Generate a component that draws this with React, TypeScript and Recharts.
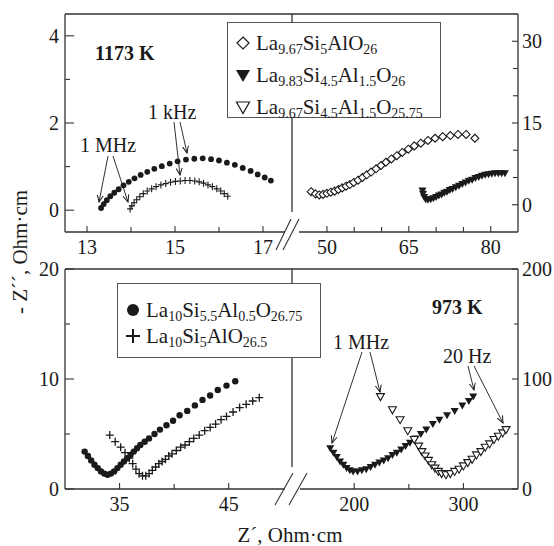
import React from "react";
import { ScatterChart, Scatter, XAxis, YAxis } from "recharts";

// 1173 K, low Z' side (left axes)
const hotAl05: number[][] = [
  [13.32, 0.05], [13.38, 0.14], [13.45, 0.23], [13.53, 0.32], [13.62, 0.4], [13.72, 0.48],
  [13.83, 0.57], [13.95, 0.65], [14.08, 0.73], [14.22, 0.81], [14.37, 0.88], [14.53, 0.95],
  [14.7, 1.01], [14.88, 1.07], [15.06, 1.12], [15.25, 1.16], [15.44, 1.18], [15.63, 1.19],
  [15.82, 1.17], [16.0, 1.14], [16.18, 1.09], [16.36, 1.04], [16.54, 0.97], [16.72, 0.9],
  [16.88, 0.82], [17.04, 0.75], [17.18, 0.68],
];
const hotAl1: number[][] = [
  [13.98, 0.03], [14.02, 0.1], [14.07, 0.17], [14.13, 0.24], [14.2, 0.31], [14.28, 0.38],
  [14.37, 0.44], [14.47, 0.49], [14.57, 0.54], [14.68, 0.58], [14.79, 0.61], [14.9, 0.64],
  [15.01, 0.66], [15.12, 0.67], [15.23, 0.68], [15.34, 0.68], [15.45, 0.67], [15.55, 0.65],
  [15.65, 0.62], [15.75, 0.58], [15.85, 0.54], [15.95, 0.49], [16.04, 0.44], [16.12, 0.38],
  [16.2, 0.32],
];
// 1173 K, high Z' side (right axes)
const hotLa967Al1: number[][] = [
  [47.1, 2.4], [47.9, 2.0], [48.6, 1.8], [49.3, 1.9], [50.0, 2.1], [50.7, 2.3], [51.4, 2.5],
  [52.1, 2.8], [52.8, 3.1], [53.5, 3.4], [54.2, 3.7], [54.9, 4.1], [55.7, 4.5], [56.5, 5.0],
  [57.3, 5.5], [58.1, 6.0], [59.0, 6.6], [59.9, 7.2], [60.8, 7.8], [61.8, 8.4], [62.8, 9.0],
  [63.8, 9.6], [64.9, 10.2], [66.0, 10.8], [67.2, 11.3], [68.5, 11.8], [69.8, 12.2],
  [71.2, 12.5], [72.6, 12.7], [74.0, 12.9], [75.5, 12.9], [77.1, 12.2],
];
const hotLa983: number[][] = [
  [67.5, 2.6], [67.6, 2.0], [67.8, 1.4], [68.1, 1.0], [68.5, 0.9], [69.0, 1.0], [69.5, 1.2],
  [70.0, 1.4], [70.5, 1.7], [71.0, 1.9], [71.5, 2.2], [72.0, 2.4], [72.5, 2.7], [73.0, 2.9],
  [73.6, 3.2], [74.2, 3.5], [74.8, 3.8], [75.4, 4.1], [76.0, 4.4], [76.6, 4.6], [77.2, 4.9],
  [77.8, 5.1], [78.4, 5.3], [79.0, 5.5], [79.6, 5.6], [80.2, 5.7], [80.8, 5.8], [81.4, 5.8],
  [82.0, 5.8], [82.6, 5.8],
];

// 973 K, low Z' side
const coldAl05: number[][] = [
  [31.8, 3.4], [32.1, 3.0], [32.4, 2.6], [32.7, 2.2], [33.0, 1.9], [33.3, 1.6], [33.6, 1.4],
  [33.9, 1.3], [34.2, 1.4], [34.5, 1.6], [34.8, 1.9], [35.1, 2.2], [35.4, 2.5], [35.7, 2.8],
  [36.0, 3.1], [36.3, 3.4], [36.6, 3.7], [36.9, 4.0], [37.3, 4.3], [37.7, 4.6], [38.2, 5.0],
  [38.7, 5.4], [39.3, 5.8], [39.9, 6.2], [40.5, 6.7], [41.2, 7.1], [41.9, 7.6], [42.6, 8.1],
  [43.3, 8.5], [44.0, 9.0], [44.8, 9.4], [45.6, 9.8],
];
const coldAl1: number[][] = [
  [34.1, 4.9], [34.6, 4.3], [35.1, 3.8], [35.5, 3.3], [35.9, 2.8], [36.2, 2.3], [36.5, 1.8],
  [36.8, 1.4], [37.1, 1.2], [37.4, 1.2], [37.7, 1.4], [38.0, 1.7], [38.3, 2.0], [38.6, 2.3],
  [38.9, 2.5], [39.2, 2.7], [39.5, 3.0], [39.8, 3.2], [40.2, 3.5], [40.6, 3.8], [41.0, 4.0],
  [41.4, 4.3], [41.8, 4.6], [42.3, 4.9], [42.8, 5.3], [43.3, 5.6], [43.8, 5.9], [44.3, 6.3],
  [44.8, 6.6], [45.4, 7.0], [46.0, 7.4], [46.6, 7.7], [47.2, 8.0], [47.8, 8.3],
];
// 973 K, high Z' side
const coldLa983: number[][] = [
  [178, 37], [181, 33], [184, 29], [187, 25], [190, 22], [193, 19], [196, 17], [199, 16],
  [203, 16], [207, 17], [211, 18], [215, 20], [219, 22], [223, 24], [227, 26], [231, 28],
  [235, 31], [239, 33], [243, 36], [247, 39], [251, 42], [256, 46], [261, 50], [266, 54],
  [272, 59], [278, 63], [285, 67], [292, 71], [299, 76], [305, 80], [309, 84],
];
const coldLa967: number[][] = [
  [224, 84], [235, 72], [242, 63], [249, 53], [255, 45], [259, 39], [262, 34], [265, 30],
  [268, 26], [271, 22], [274, 19], [277, 16], [280, 14], [284, 13], [288, 14], [292, 16],
  [296, 18], [300, 21], [304, 24], [308, 27], [312, 31], [316, 34], [320, 38], [324, 41],
  [328, 45], [332, 48], [336, 51], [339, 54],
];

const tlXTicks = [13, 14, 15, 16, 17];
const tlXLabels = [13, 15, 17];
const tlYTicks = [0, 1, 2, 3, 4];
const tlYLabels = [0, 2, 4];
const trXTicks = [50, 55, 60, 65, 70, 75, 80];
const trXLabels = [50, 65, 80];
const trYTicks = [0, 5, 10, 15, 20, 25, 30];
const trYLabels = [0, 15, 30];
const blXTicks = [35, 40, 45];
const blXLabels = [35, 45];
const blYTicks = [0, 5, 10, 15, 20];
const blYLabels = [0, 10, 20];
const brXTicks = [200, 250, 300];
const brXLabels = [200, 300];
const brYTicks = [0, 50, 100, 150, 200];
const brYLabels = [0, 100, 200];

const W = 554;
const H = 546;
const FONT = "'Liberation Serif', 'Times New Roman', serif";
const INK = "#1a1a1a";
const LINE = "#333";

const toPts = (arr: number[][]) => arr.map(([x, y]) => ({ x, y }));

// ticks point inward; x/y arrive already shifted by tickMargin (tickSize is 0)
function AxisTick(props: any) {
  const { x, y, payload, side, labels, major, minor, gap } = props;
  const v = payload.value;
  const isMajor = labels.includes(v);
  const len = isMajor ? major : minor;
  if (side === "left") {
    const ax = x + gap;
    return (
      <g>
        <line x1={ax} y1={y} x2={ax + len} y2={y} stroke={LINE} strokeWidth={1.1} />
        {isMajor && (
          <text x={x} y={y} dy="0.35em" textAnchor="end" fontSize={20} fontFamily={FONT} fill={INK}>{v}</text>
        )}
      </g>
    );
  }
  if (side === "right") {
    const ax = x - gap;
    return (
      <g>
        <line x1={ax} y1={y} x2={ax - len} y2={y} stroke={LINE} strokeWidth={1.1} />
        {isMajor && (
          <text x={x} y={y} dy="0.35em" textAnchor="start" fontSize={20} fontFamily={FONT} fill={INK}>{v}</text>
        )}
      </g>
    );
  }
  const ay = y - gap;
  return (
    <g>
      <line x1={x} y1={ay} x2={x} y2={ay - len} stroke={LINE} strokeWidth={1.1} />
      {isMajor && (
        <text x={x} y={ay + 22} textAnchor="middle" fontSize={20} fontFamily={FONT} fill={INK}>{v}</text>
      )}
    </g>
  );
}

const Dot = (p: any) => <circle cx={p.cx} cy={p.cy} r={2.9} fill={INK} />;
const BigDot = (p: any) => <circle cx={p.cx} cy={p.cy} r={3.2} fill={INK} />;
const SmallCross = (p: any) => (
  <path d={`M${p.cx - 3},${p.cy}H${p.cx + 3}M${p.cx},${p.cy - 3.5}V${p.cy + 3.5}`} stroke={INK} strokeWidth={1.1} />
);
const Cross = (p: any) => (
  <path d={`M${p.cx - 4},${p.cy}H${p.cx + 4}M${p.cx},${p.cy - 4}V${p.cy + 4}`} stroke={INK} strokeWidth={1.3} />
);
const Diamond = (p: any) => (
  <path d={`M${p.cx},${p.cy - 4}L${p.cx + 4},${p.cy}L${p.cx},${p.cy + 4}L${p.cx - 4},${p.cy}Z`} fill="#fff" stroke={INK} strokeWidth={1.1} />
);
const TriDown = (p: any) => (
  <path d={`M${p.cx - 4},${p.cy - 3}H${p.cx + 4}L${p.cx},${p.cy + 4}Z`} fill={INK} />
);
const TriOpen = (p: any) => (
  <path d={`M${p.cx - 4},${p.cy - 3}H${p.cx + 4}L${p.cx},${p.cy + 4}Z`} fill="#fff" stroke={INK} strokeWidth={1.1} />
);

interface PanelProps {
  box: { x0: number; x1: number; y0: number; y1: number };
  xDomain: number[];
  yDomain: number[];
  xTicks: number[];
  xLabels: number[];
  yTicks: number[];
  yLabels: number[];
  ySide: "left" | "right";
  yMajor: number;
  yMinor: number;
  series: { data: number[][]; shape: any; name: string }[];
}

const AX = 2; // nominal axis thickness reserved by recharts

function Panel({ box, xDomain, yDomain, xTicks, xLabels, yTicks, yLabels, ySide, yMajor, yMinor, series }: PanelProps) {
  const yGap = ySide === "left" ? 6 : 4;
  const margin = {
    top: box.y0,
    bottom: H - box.y1 - AX,
    left: ySide === "left" ? box.x0 - AX : box.x0,
    right: ySide === "right" ? W - box.x1 - AX : W - box.x1,
  };
  return (
    <div style={{ position: "absolute", left: 0, top: 0, width: W, height: H }}>
      <ScatterChart width={W} height={H} margin={margin}>
        <XAxis
          type="number"
          dataKey="x"
          domain={xDomain}
          ticks={xTicks}
          interval={0}
          allowDataOverflow
          height={AX}
          axisLine={false}
          tickLine={false}
          tickSize={0}
          tickMargin={5}
          tick={<AxisTick side="bottom" labels={xLabels} major={6} minor={5} gap={5} />}
        />
        <YAxis
          type="number"
          dataKey="y"
          orientation={ySide}
          domain={yDomain}
          ticks={yTicks}
          interval={0}
          allowDataOverflow
          width={AX}
          axisLine={false}
          tickLine={false}
          tickSize={0}
          tickMargin={yGap}
          tick={<AxisTick side={ySide} labels={yLabels} major={yMajor} minor={yMinor} gap={yGap} />}
        />
        {series.map((s) => (
          <Scatter key={s.name} name={s.name} data={toPts(s.data)} shape={s.shape} isAnimationActive={false} />
        ))}
      </ScatterChart>
    </div>
  );
}

const sub = (t: string) => (
  <span style={{ fontSize: 14, lineHeight: "14px", position: "relative", top: 4 }}>{t}</span>
);

function LegendRow({ top, marker, children }: { top: number; marker: React.ReactNode; children: React.ReactNode }) {
  return (
    <div style={{ position: "absolute", left: 7, top: top - 11, height: 22, display: "flex", alignItems: "center", whiteSpace: "nowrap" }}>
      <svg width={16} height={16} style={{ marginRight: 5 }}>{marker}</svg>
      <span style={{ fontSize: 21, lineHeight: "20px" }}>{children}</span>
    </div>
  );
}

export default function App() {
  return (
    <div style={{ position: "absolute", left: 0, top: 0, width: W, height: H, background: "#fff", fontFamily: FONT, color: INK }}>
      <Panel
        box={{ x0: 65, x1: 292, y0: 14, y1: 232 }}
        xDomain={[12.5, 17.66]}
        yDomain={[-0.5, 4.5]}
        xTicks={tlXTicks}
        xLabels={tlXLabels}
        yTicks={tlYTicks}
        yLabels={tlYLabels}
        ySide="left"
        yMajor={9}
        yMinor={5}
        series={[
          { name: "La10Si5.5Al0.5O26.75", data: hotAl05, shape: Dot },
          { name: "La10Si5AlO26.5", data: hotAl1, shape: SmallCross },
        ]}
      />
      <Panel
        box={{ x0: 292, x1: 518, y0: 14, y1: 232 }}
        xDomain={[43.6, 85]}
        yDomain={[-5, 35]}
        xTicks={trXTicks}
        xLabels={trXLabels}
        yTicks={trYTicks}
        yLabels={trYLabels}
        ySide="right"
        yMajor={6}
        yMinor={5}
        series={[
          { name: "La9.67Si5AlO26", data: hotLa967Al1, shape: Diamond },
          { name: "La9.83Si4.5Al1.5O26", data: hotLa983, shape: TriDown },
        ]}
      />
      <Panel
        box={{ x0: 65, x1: 292, y0: 269, y1: 489 }}
        xDomain={[30, 50.8]}
        yDomain={[0, 20]}
        xTicks={blXTicks}
        xLabels={blXLabels}
        yTicks={blYTicks}
        yLabels={blYLabels}
        ySide="left"
        yMajor={9}
        yMinor={5}
        series={[
          { name: "La10Si5.5Al0.5O26.75", data: coldAl05, shape: BigDot },
          { name: "La10Si5AlO26.5", data: coldAl1, shape: Cross },
        ]}
      />
      <Panel
        box={{ x0: 292, x1: 518, y0: 269, y1: 489 }}
        xDomain={[143, 350]}
        yDomain={[0, 200]}
        xTicks={brXTicks}
        xLabels={brXLabels}
        yTicks={brYTicks}
        yLabels={brYLabels}
        ySide="right"
        yMajor={6}
        yMinor={4}
        series={[
          { name: "La9.83Si4.5Al1.5O26", data: coldLa983, shape: TriDown },
          { name: "La9.67Si4.5Al1.5O25.75", data: coldLa967, shape: TriOpen },
        ]}
      />

      {/* frames and axis breaks */}
      <svg width={W} height={H} style={{ position: "absolute", left: 0, top: 0 }}>
        <g stroke={LINE} strokeWidth={1.3} fill="none">
          <path d="M65,14H518M65,14V232M518,14V232M65,232H285M299,232H518M292,14V212" />
          <path d="M276,250L291,219M283,250L299,219" strokeWidth={1.1} />
          <path d="M65,269H518M65,269V489M518,269V489M65,489H285M300,489H518M292,269V467" />
          <path d="M275,505L293,473M289,505L307,473" strokeWidth={1.1} />
        </g>
      </svg>

      {/* legends */}
      <div style={{ position: "absolute", left: 227, top: 22, width: 212, height: 94, border: "1px solid #555", background: "#fff" }}>
        <LegendRow top={20} marker={<path d="M8,2L14,8L8,14L2,8Z" fill="#fff" stroke={INK} strokeWidth={1.2} />}>
          La{sub("9.67")}Si{sub("5")}AlO{sub("26")}
        </LegendRow>
        <LegendRow top={52} marker={<path d="M1,3H15L8,15Z" fill={INK} />}>
          La{sub("9.83")}Si{sub("4.5")}Al{sub("1.5")}O{sub("26")}
        </LegendRow>
        <LegendRow top={84} marker={<path d="M1.5,3H14.5L8,14.5Z" fill="#fff" stroke={INK} strokeWidth={1.2} />}>
          La{sub("9.67")}Si{sub("4.5")}Al{sub("1.5")}O{sub("25.75")}
        </LegendRow>
      </div>
      <div style={{ position: "absolute", left: 117, top: 283, width: 202, height: 73, border: "1px solid #555", background: "#fff" }}>
        <LegendRow top={26} marker={<circle cx={8} cy={8} r={6} fill={INK} />}>
          La{sub("10")}Si{sub("5.5")}Al{sub("0.5")}O{sub("26.75")}
        </LegendRow>
        <LegendRow top={52} marker={<path d="M1,8H15M8,1V15" stroke={INK} strokeWidth={2} />}>
          La{sub("10")}Si{sub("5")}AlO{sub("26.5")}
        </LegendRow>
      </div>

      {/* annotations */}
      <svg width={W} height={H} style={{ position: "absolute", left: 0, top: 0 }}>
        <defs>
          <marker id="arr" markerWidth={8} markerHeight={8} refX={7} refY={4} orient="auto" markerUnits="userSpaceOnUse">
            <path d="M0,1L7,4L0,7" fill="none" stroke={INK} strokeWidth={1} />
          </marker>
        </defs>
        <g stroke={INK} strokeWidth={0.9} fill="none">
          <line x1={108} y1={156} x2={99} y2={202} markerEnd="url(#arr)" />
          <line x1={113} y1={156} x2={128} y2={202} markerEnd="url(#arr)" />
          <line x1={174} y1={122} x2={180} y2={175} markerEnd="url(#arr)" />
          <line x1={180} y1={122} x2={187} y2={153} markerEnd="url(#arr)" />
          <line x1={362} y1={352} x2={332} y2={443} markerEnd="url(#arr)" />
          <line x1={370} y1={352} x2={380} y2={392} markerEnd="url(#arr)" />
          <line x1={468} y1={366} x2={474} y2={390} markerEnd="url(#arr)" />
          <line x1={474} y1={366} x2={503} y2={423} markerEnd="url(#arr)" />
        </g>
        <g fontFamily={FONT} fontSize={20} fill={INK}>
          <text x={95} y={60} fontWeight="bold">1173 K</text>
          <text x={80} y={152}>1 MHz</text>
          <text x={148} y={119}>1 kHz</text>
          <text x={432} y={314} fontWeight="bold">973 K</text>
          <text x={333} y={349}>1 MHz</text>
          <text x={443} y={363}>20 Hz</text>
          <text x={290} y={542} textAnchor="middle" fontSize={21}>Z´, Ohm·cm</text>
          <text transform="translate(20,252) rotate(-90)" textAnchor="middle" dy="0.35em" fontSize={21}>- Z´´, Ohm·cm</text>
        </g>
      </svg>
    </div>
  );
}
